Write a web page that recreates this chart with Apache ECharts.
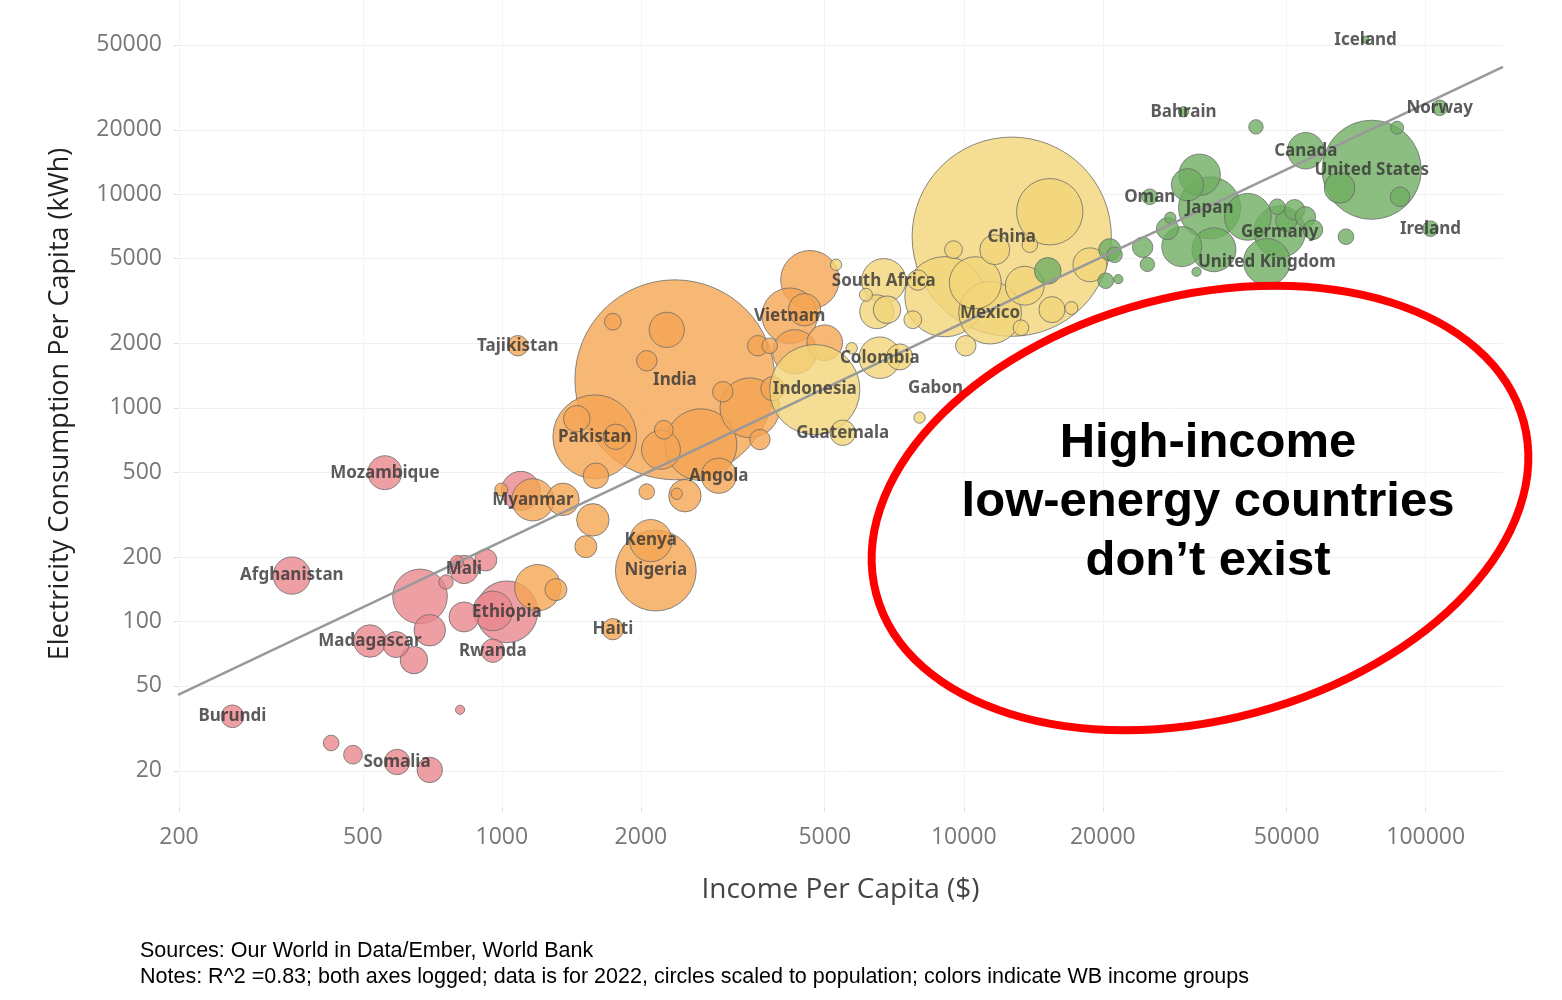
<!DOCTYPE html>
<html><head><meta charset="utf-8">
<script src="https://cdn.jsdelivr.net/npm/echarts@6/dist/echarts.min.js"></script>
<style>html,body{margin:0;padding:0;background:#fff}#c{width:1562px;height:1000px}</style>
</head><body><div id="c"></div>
<script>
// [name, income per capita $, electricity kWh per capita, population (millions)]
const lowIncome = [
["Burundi",261,36,13],["Afghanistan",351,164,41],["Mozambique",558,497,33],["Madagascar",518,81,30],
["Somalia",593,22,17],["",427,27,5],["",476,23.8,8],["",698,20.2,17],["",665,131,95],["",698,91,28],
["",590,78,18],["",645,66,20],["",757,153,4],["Mali",828,175,22],["",800,190,3],["",923,194,12],
["Ethiopia",1025,111,123],["",956,112,47],["",828,105,25],["Rwanda",956,73,14],["",812,38.6,1],["",1099,409,45]
];
const lowerMiddle = [
["India",2369,1352,1420],["Pakistan",1589,732,235],["Nigeria",2154,173,218],["Kenya",2101,239,54],
["",2697,672,170],["",3443,1000,115],["Vietnam",4198,2698,98],["",4645,3975,110],["",4306,1829,60],
["",5000,2017,37],["",4520,2878,30],["",2275,2317,36],["",2059,1660,10],["",1739,2529,6],
["Tajikistan",1083,1952,10],["",1453,889,19],["",1765,732,17],["",2210,636,45],["",2242,789,8],
["",1598,481,17],["Angola",2949,481,36],["",2490,388,30],["",2059,405,5],["",2391,396,2],["",997,414,3],
["Myanmar",1167,371,54],["",1356,373,30],["",1574,299,30],["",1520,224,12],["",1196,144,66],["",1309,141,12],
["Haiti",1739,92,11],["",3008,1189,10],["",3580,1952,10],["",3800,1952,5],["",3860,1230,15],["",3620,710,10]
];
const upperMiddle = [
["China",12700,6320,1410],["",15350,8270,144],["Mexico",11400,2786,127],["",9100,3311,215],["",10590,3848,85],
["South Africa",6710,3933,60],["Colombia",6580,1716,52],["",7265,1730,18],["",6477,2816,33],["",6820,2880,20],
["",7755,2584,7],["",7950,3960,10],["",6140,3380,3],["",13550,3728,45],["",15520,2880,18],["",13300,2370,5],
["",10100,1952,10],["",9500,5495,7],["",11670,5495,25],["",13900,5800,5],["Guatemala",5470,764,17],
["",5290,4670,2],["Gabon",8020,900,2],["",5720,1900,2],["",18750,4670,33],["",17100,2930,3],
["Indonesia",4758,1216,275]
];
const highIncome = [
["United States",76400,13000,335],["Canada",55000,15960,39],["Norway",107200,25350,5],["",86700,20460,3],
["Iceland",74100,52800,0.4],["Bahrain",29900,24300,1.5],["",42900,20650,4],["Oman",25270,9720,5],
["Japan",34050,8630,125],["",32400,12320,52],["",30500,11060,30],["Germany",48300,6670,84],["",41200,7830,68],
["United Kingdom",45300,4825,67],["",34800,5495,59],["",29640,5680,48],["",27600,6890,12],["",24390,5640,10],
["",24970,4690,4],["",28000,7750,2],["",31900,4330,1],["",20700,5495,12],["",21200,5200,5],["",20290,3933,5],
["",21600,4000,1],["",15200,4375,19],["",47700,8730,5],["",52000,8450,10],["",54900,7830,10],["",49900,7500,11],
["",57000,6810,9],["",65100,10700,26],["",67200,6320,5],["",88000,9720,9],["Ireland",102400,6890,5]
];
const fitLine = [[199,45.4],[147000,39450]];
const xTicks = [200,500,1000,2000,5000,10000,20000,50000,100000];
const yTicks = [20,50,100,200,500,1000,2000,5000,10000,20000,50000];

const groups = [[lowIncome,'#e9878d'],[lowerMiddle,'#f5a552'],[upperMiddle,'#f3d679'],[highIncome,'#6fae62']];
const labelOffset = {"Gabon":[16,-29]};
const sz = p => 5.2*Math.sqrt(p)+4;

const series = groups.map(([arr,col]) => ({
  type:'scatter',
  data: arr.slice().sort((a,b)=>b[3]-a[3]).map(d=>({name:d[0],value:[d[1],d[2],d[3]]})),
  symbolSize: v => sz(v[2]),
  itemStyle:{color:col,opacity:0.8,borderColor:'#6b6b6b',borderWidth:1},
  emphasis:{disabled:true}, z:2
}));
series.push({type:'line',data:fitLine,symbol:'none',lineStyle:{color:'#999',width:2.5},z:3,silent:true});
const labelled = [].concat(lowIncome,lowerMiddle,upperMiddle,highIncome).filter(d=>d[0]);
series.push({
  type:'scatter',symbolSize:0,z:10,silent:true,
  data: labelled.map(d=>({name:d[0],value:[d[1],d[2]],label:{offset:labelOffset[d[0]]||[0,0]}})),
  label:{show:true,position:'inside',formatter:'{b}',fontFamily:'Noto Sans',fontWeight:'bold',fontSize:17,color:'#333'}
});

const chart = echarts.init(document.getElementById('c'));
chart.setOption({
  animation:false,
  grid:{left:178,right:59,top:0,bottom:192},
  xAxis:{type:'log',min:199,max:147000,
    name:'Income Per Capita ($)',nameLocation:'middle',nameGap:68,
    nameTextStyle:{fontFamily:'Open Sans',fontSize:28,color:'#444'},
    axisLine:{show:false},
    axisTick:{show:true,customValues:xTicks,length:4,lineStyle:{color:'#ddd'}},
    axisLabel:{customValues:xTicks,formatter:v=>String(Math.round(v)),fontFamily:'Open Sans',fontSize:23,color:'#777',margin:18},
    splitLine:{show:true,lineStyle:{color:'#f4f4f4'}}},
  yAxis:{type:'log',min:13.4,max:81000,
    name:'Electricity Consumption Per Capita (kWh)',nameLocation:'middle',nameGap:104,
    nameTextStyle:{fontFamily:'Open Sans',fontSize:27,color:'#222'},
    axisLine:{show:false},
    axisTick:{show:true,customValues:yTicks,length:4,lineStyle:{color:'#ddd'}},
    axisLabel:{customValues:yTicks,formatter:v=>String(Math.round(v)),fontFamily:'Open Sans',fontSize:23,color:'#777',margin:16},
    splitLine:{show:true,lineStyle:{color:'#f0f0f0'}}},
  series:series,
  graphic:[
    {type:'ellipse',shape:{cx:0,cy:0,rx:335,ry:212},x:1200,y:508,rotation:0.26,
     style:{fill:'none',stroke:'#f00',lineWidth:8},z:20},
    {type:'text',x:1208,y:502,z:21,style:{text:'High-income\nlow-energy countries\ndon\u2019t exist',
     align:'center',verticalAlign:'middle',font:'bold 49px "Liberation Sans", Arial',lineHeight:59,fill:'#000'}},
    {type:'text',x:140,y:951,style:{text:'Sources: Our World in Data/Ember, World Bank',verticalAlign:'middle',
     font:'21.5px "Liberation Sans", Arial',fill:'#000'}},
    {type:'text',x:140,y:977,style:{text:'Notes: R^2 =0.83; both axes logged; data is for 2022, circles scaled to population; colors indicate WB income groups',
     verticalAlign:'middle',font:'21.5px "Liberation Sans", Arial',fill:'#000'}}
  ]
});
</script></body></html>
